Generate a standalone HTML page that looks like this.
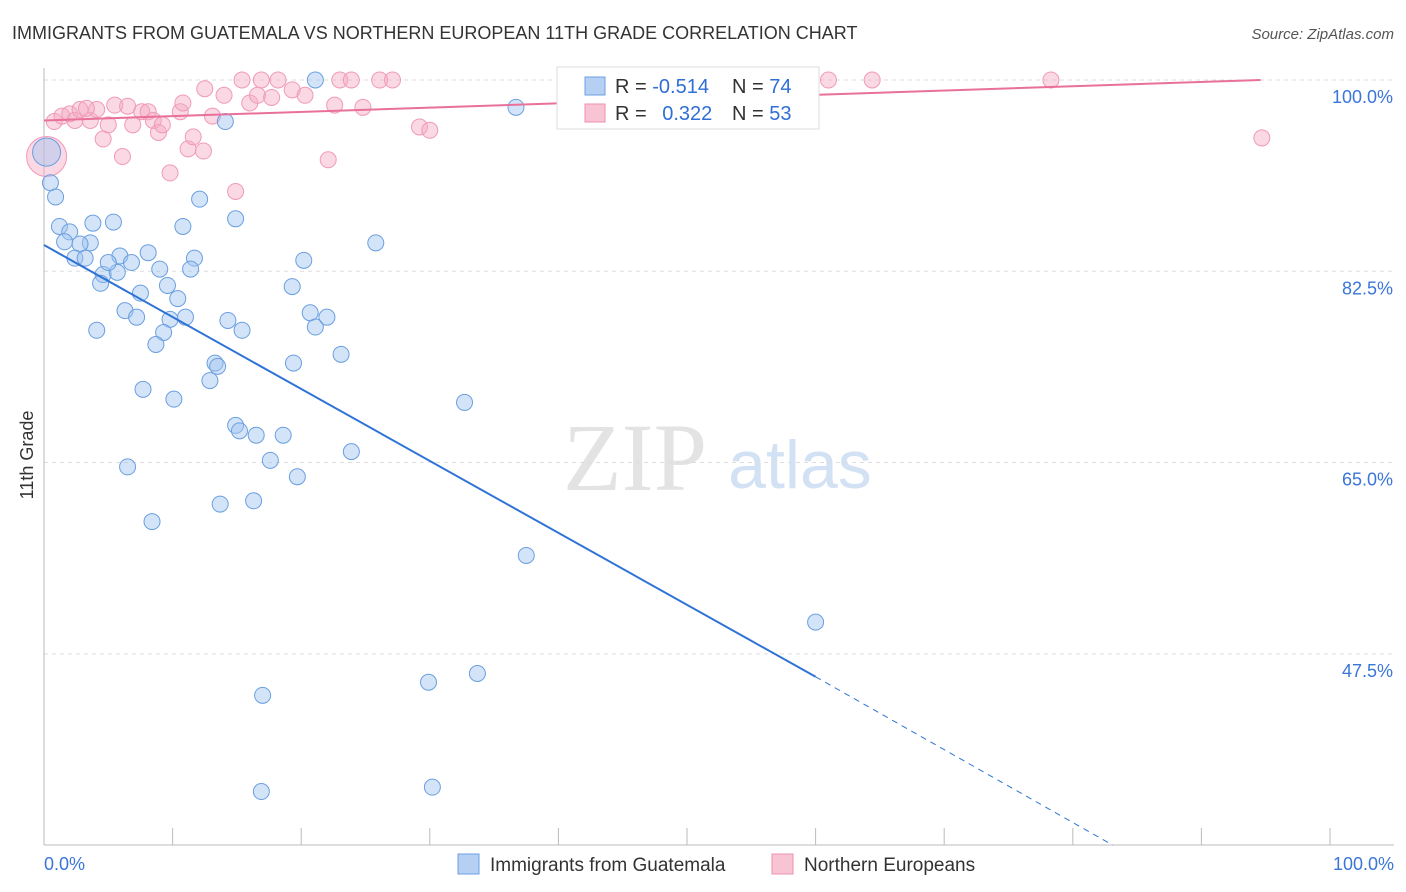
<!DOCTYPE html>
<html><head><meta charset="utf-8"><style>
body{margin:0;background:#fff;font-family:"Liberation Sans",sans-serif;}
svg{display:block}
</style></head><body>
<svg id="c" width="1406" height="892" viewBox="0 0 1406 892">
<text x="12" y="39" font-size="18" fill="#333">IMMIGRANTS FROM GUATEMALA VS NORTHERN EUROPEAN 11TH GRADE CORRELATION CHART</text>
<text x="1394" y="39" font-size="15" fill="#555" font-style="italic" text-anchor="end">Source: ZipAtlas.com</text>
<text x="0" y="0" font-size="18" fill="#333" text-anchor="middle" transform="translate(33,455) rotate(-90)">11th Grade</text>
<g><text x="635" y="490" font-size="96" fill="#e3e3e3" font-family="Liberation Serif,serif" text-anchor="middle">ZIP</text><text x="800" y="488" font-size="68" fill="#d3e1f4" text-anchor="middle">atlas</text></g>
<g id="grid"></g><g id="axes"></g><g id="pts"></g><g id="lines"></g>
<g>
<rect x="557" y="67" width="262" height="62" fill="#fff" stroke="#ddd"/>
<rect x="585" y="77" width="20" height="18" fill="#b6d0f3" stroke="#6a9fe0"/>
<rect x="585" y="104" width="20" height="18" fill="#f8c4d4" stroke="#ee8fb0"/>
<text x="615" y="93" font-size="20" fill="#333">R = <tspan fill="#2f6fd6">-0.514</tspan></text>
<text x="732" y="93" font-size="20" fill="#333">N = <tspan fill="#2f6fd6">74</tspan></text>
<text x="615" y="120" font-size="20" fill="#333">R = <tspan fill="#2f6fd6" dx="10">0.322</tspan></text>
<text x="732" y="120" font-size="20" fill="#333">N = <tspan fill="#2f6fd6">53</tspan></text>
</g>
<g>
<rect x="458" y="854" width="21" height="20" fill="#b6d0f3" stroke="#6a9fe0"/>
<text x="490" y="871" font-size="19" fill="#333">Immigrants from Guatemala</text>
<rect x="772" y="854" width="21" height="20" fill="#f8c4d4" stroke="#ee8fb0"/>
<text x="804" y="871" font-size="19" fill="#333">Northern Europeans</text>
</g>
</svg>
<script>
const yTicks=[100,82.5,65,47.5];
const yTickLabels=["100.0%","82.5%","65.0%","47.5%"];
const blueX=[0.2,0.5,0.9,1.2,2.0,1.6,3.6,2.8,3.8,5.4,2.4,3.2,5.9,6.8,8.1,4.6,5.7,4.4,5.0,9.0,10.8,12.1,14.9,11.7,11.4,9.6,7.5,10.4,6.3,7.2,9.8,11.0,4.1,9.3,8.7,14.3,15.4,13.3,13.5,12.9,7.7,10.1,14.9,15.2,16.5,18.6,17.6,19.7,6.5,8.4,13.7,16.3,17.0,16.9,14.1,21.1,36.7,25.8,20.2,19.3,20.7,22.0,21.1,23.1,19.4,23.9,32.7,37.5,29.9,33.7,30.2,60.0];
const blueY=[93.4,90.6,89.3,86.6,86.1,85.2,85.1,85.0,86.9,87.0,83.7,83.7,83.9,83.3,84.2,82.2,82.4,81.4,83.3,82.7,86.6,89.1,87.3,83.7,82.7,81.2,80.5,80.0,78.9,78.3,78.1,78.3,77.1,76.9,75.8,78.0,77.1,74.1,73.8,72.5,71.7,70.8,68.4,67.9,67.5,67.5,65.2,63.7,64.6,59.6,61.2,61.5,43.7,34.9,96.2,100,97.5,85.1,83.5,81.1,78.7,78.3,77.4,74.9,74.1,66.0,70.5,56.5,44.9,45.7,35.3,50.4];
const pinkX=[0.8,1.4,2.0,2.4,2.8,3.6,4.1,3.3,4.6,5.0,5.5,6.1,6.5,6.9,7.6,8.1,8.5,8.9,9.2,9.8,10.6,10.8,11.2,11.6,12.4,12.5,13.1,14.0,14.9,15.4,16.0,16.6,16.9,17.7,18.2,19.3,20.3,22.1,22.6,23.0,23.9,24.8,26.1,27.1,29.2,30.0,40.9,61.0,64.4,78.3,94.7,0.2];
const pinkY=[96.2,96.7,96.9,96.3,97.3,96.3,97.3,97.4,94.6,95.9,97.7,93.0,97.6,95.9,97.1,97.1,96.3,95.2,95.9,91.5,97.1,97.9,93.7,94.8,93.5,99.2,96.7,98.6,89.8,100,97.9,98.6,100,98.4,100,99.1,98.6,92.7,97.7,100,100,97.5,100,100,95.7,95.4,100,100,100,100,94.7,93.0];
const blueLine=[[0,84.9],[60,45.4]],blueDash=[[60,45.4],[83.1,30.0]];
const pinkLine=[[0,96.3],[94.6,100]];
const X=v=>44+v*12.86, Y=v=>80+(100-v)*10.93;
const NS="http://www.w3.org/2000/svg";
function mk(t,a,p){const e=document.createElementNS(NS,t);for(const k in a)e.setAttribute(k,a[k]);document.getElementById(p).appendChild(e);return e;}
yTicks.forEach((t,i)=>{
 const g=mk('line',{x1:44,x2:1394,y1:Y(t),y2:Y(t),stroke:'#ddd','stroke-dasharray':'4,4'},'grid');
 
 
 const l=mk('text',{x:1393,y:Y(t)+23,'font-size':18,fill:'#3a75d8','text-anchor':'end'},'grid');l.textContent=yTickLabels[i];
 
 
});
mk('line',{x1:44,x2:44,y1:68,y2:845,stroke:'#bbb'},'axes');
mk('line',{x1:44,x2:1394,y1:845,y2:845,stroke:'#bbb'},'axes');
for(let i=0;i<=10;i++){mk('line',{x1:X(i*10),x2:X(i*10),y1:828,y2:845,stroke:'#bbb'},'axes');}
const xl=mk('text',{x:44,y:870,'font-size':18,fill:'#3a75d8'},'axes');xl.textContent='0.0%';


const xr=mk('text',{x:1394,y:870,'font-size':18,fill:'#3a75d8','text-anchor':'end'},'axes');xr.textContent='100.0%';


pinkX.forEach((x,i)=>{const c=mk('circle',{cx:X(x),cy:Y(pinkY[i]),r:i==pinkX.length-1?20:8,fill:'rgba(245,170,195,0.45)',stroke:'#f09ab8','stroke-width':1},'pts');
 
 });
blueX.forEach((x,i)=>{const c=mk('circle',{cx:X(x),cy:Y(blueY[i]),r:i==0?14:8,fill:'rgba(160,195,240,0.45)',stroke:'#6a9fe0','stroke-width':1},'pts');
 
 });
const bl=mk('line',{x1:X(blueLine[0][0]),y1:Y(blueLine[0][1]),x2:X(blueLine[1][0]),y2:Y(blueLine[1][1]),stroke:'#2f73d6','stroke-width':2},'lines');


const bd=mk('line',{x1:X(blueDash[0][0]),y1:Y(blueDash[0][1]),x2:X(blueDash[1][0]),y2:Y(blueDash[1][1]),stroke:'#2f73d6','stroke-width':1,'stroke-dasharray':'6,5'},'lines');


const pl=mk('line',{x1:X(pinkLine[0][0]),y1:Y(pinkLine[0][1]),x2:X(pinkLine[1][0]),y2:Y(pinkLine[1][1]),stroke:'#e8709a','stroke-width':2},'lines');


</script>
</body></html>
